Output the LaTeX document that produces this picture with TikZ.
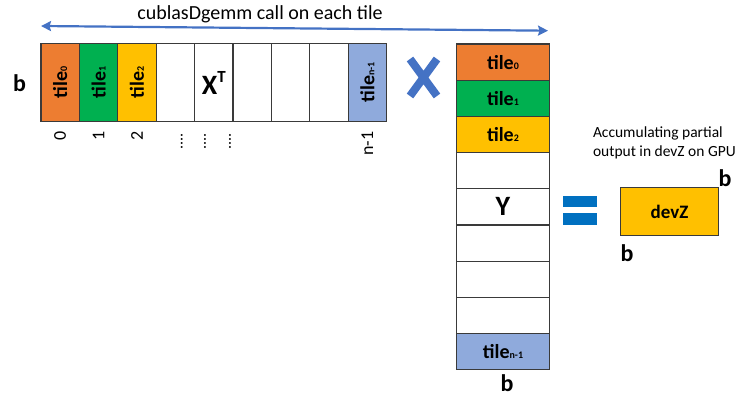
\documentclass[tikz,border=0pt]{standalone}
\usepackage{fontspec}
\setmainfont{Carlito}
\usetikzlibrary{arrows.meta, positioning}
\definecolor{torange}{HTML}{ED7D31}
\definecolor{tgreen}{HTML}{00B050}
\definecolor{tyellow}{HTML}{FFC000}
\definecolor{tblue}{HTML}{8FAADC}
\definecolor{ablue}{HTML}{4472C4}
\definecolor{eqblue}{HTML}{0070C0}
\definecolor{edge}{HTML}{3A3A3A}
\newcommand{\tilelbl}[1]{tile{\fontsize{10}{10}\selectfont #1}}
\newcommand{\fsz}[1]{\fontsize{#1}{#1}\selectfont}

\begin{document}
\begin{tikzpicture}[x=1pt, y=1pt, >={Stealth[length=10pt, width=10pt, inset=1.5pt]}, node distance=0pt,
        every node/.style={inner sep=0pt, outer sep=0pt, text=black},
        xcell/.style={draw=edge, line width=1.2pt, minimum width=38.4pt, minimum height=78.4pt},
        ycell/.style={draw=edge, line width=1.2pt, minimum width=92.6pt, minimum height=36.2pt, font=\fsz{20}\bfseries},
        tlabel/.style={rotate=90, font=\fsz{20}\bfseries},
        idx/.style={rotate=90, anchor=east, font=\fsz{18}},
        dimb/.style={font=\fsz{24}\bfseries},
        big/.style={font=\fsz{28}\bfseries}]
        \useasboundingbox (0,0) rectangle (739,397);
        % row X^T
        \node[xcell, fill=torange, label={[tlabel]center:\tilelbl{0}}] (x0) at (60.2,314.5) {};
        \node[xcell, fill=tgreen, right=of x0, label={[tlabel]center:\tilelbl{1}}] (x1) {};
        \node[xcell, fill=tyellow, right=of x1, label={[tlabel]center:\tilelbl{2}}] (x2) {};
        \node[xcell, right=of x2] (x3) {};
        \node[xcell, right=of x3, big] (x4) {X\raisebox{12pt}{\fsz{17}T}};
        \node[xcell, right=of x4] (x5) {};
        \node[xcell, right=of x5] (x6) {};
        \node[xcell, right=of x6] (x7) {};
        \node[xcell, fill=tblue, right=of x7, label={[tlabel]center:\tilelbl{n-1}}] (x8) {};
        \node[dimb] (bx) at (19.5,314) {b};
        % indices
        \node[idx, below=10pt of x0, anchor=east] (i0) {0};
        \node[idx, below=10pt of x1, anchor=east] (i1) {1};
        \node[idx, below=10pt of x2, anchor=east] (i2) {2};
        \node[idx, font=\fsz{16}] (d0) at (181.7,264) {....};
        \node[idx, font=\fsz{16}] (d1) at (205,264) {....};
        \node[idx, font=\fsz{16}] (d2) at (230,264) {....};
        \node[idx, below=10pt of x8, anchor=east] (in) {n-1};
        % arrow over the row
        \coordinate (al) at (41,371);
        \coordinate (ar) at (548,366.3);
        \draw[<->, ablue, line width=2.2pt] (al) -- (ar);
        \node[font=\fsz{20}] (call) at (260,383) {cublasDgemm call on each tile};
        % times
        \draw[ablue, line width=8pt] (410,338) -- (437,301) (437,338) -- (410,301);
        % column Y
        \node[ycell, fill=torange] (y0) at (503,334.9) {\tilelbl{0}};
        \node[ycell, fill=tgreen, below=of y0] (y1) {\tilelbl{1}};
        \node[ycell, fill=tyellow, below=of y1] (y2) {\tilelbl{2}};
        \node[ycell, below=of y2] (y3) {};
        \node[ycell, below=of y3, font=\fsz{28}\bfseries] (y4) {Y};
        \node[ycell, below=of y4] (y5) {};
        \node[ycell, below=of y5] (y6) {};
        \node[ycell, below=of y6] (y7) {};
        \node[ycell, fill=tblue, below=of y7] (y8) {\tilelbl{n-1}};
        \node[dimb] (by) at (507,14) {b};
        % equals
        \fill[eqblue] (563,189.7) rectangle (596.7,201.3);
        \fill[eqblue] (563,172) rectangle (596.7,184.3);
        % result
        \node[draw=edge, line width=1.2pt, fill=tyellow, minimum width=97.6pt, minimum height=47.6pt,
            font=\fsz{19}\bfseries] (devZ) at (669.5,185.5) {devZ};
        \node[dimb] (bz1) at (725,219) {b};
        \node[dimb] (bz2) at (627,143.5) {b};
        \node[anchor=north west, align=left, font=\fontsize{15.5}{18.4}\selectfont] (acc) at (593,270)
            {Accumulating partial\\output in devZ on GPU};
    \end{tikzpicture}
\end{document}
